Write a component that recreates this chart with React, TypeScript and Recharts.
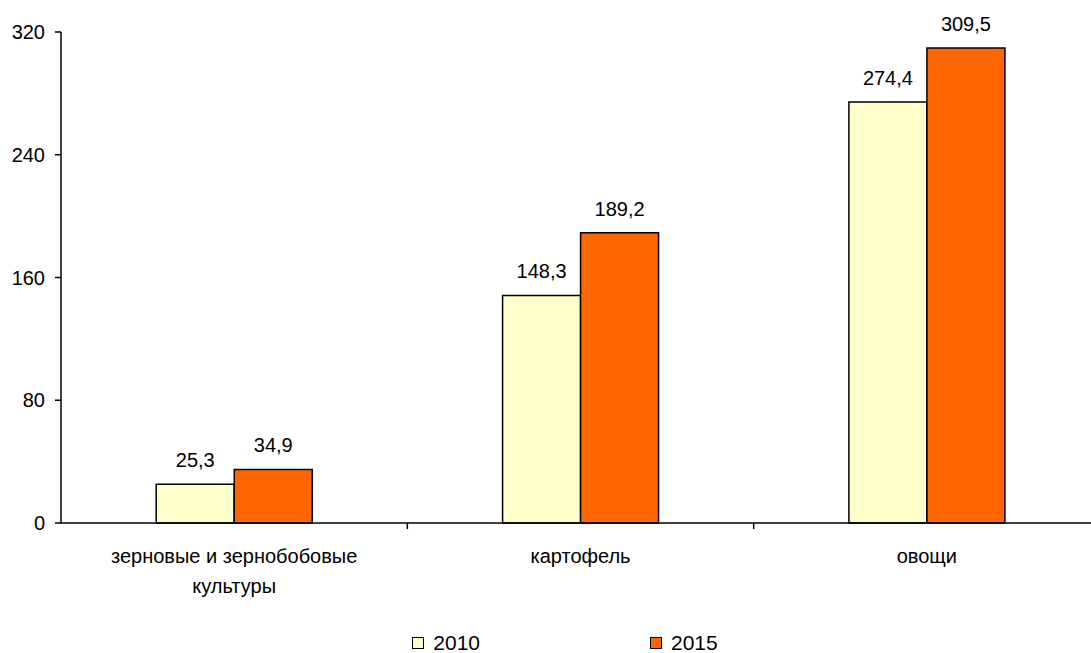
import React from "react";
import { BarChart, Bar, XAxis, YAxis, Legend, LabelList } from "recharts";

// categories (\n = line break in axis label)
const categories = ["зерновые и зернобобовые\nкультуры", "картофель", "овощи"];
const values2010 = [25.3, 148.3, 274.4];
const values2015 = [34.9, 189.2, 309.5];
const yTicks = [0, 80, 160, 240, 320];

const FONT = "'Liberation Sans', Arial, sans-serif";

const chartData = categories.map((c, i) => ({
  name: c,
  y2010: values2010[i],
  y2015: values2015[i],
}));

const fmt = (v: any) => String(v).replace(".", ",");

function CategoryTick(props: any) {
  const { x, y, payload, width } = props;
  const half = payload && payload.offset ? payload.offset : width / (2 * categories.length);
  const lines = String(payload.value).split("\n");
  return (
    <g>
      <line x1={x + half} x2={x + half} y1={y} y2={y + 6} stroke="#000" strokeWidth={1.5} />
      <text x={x} y={y + 40} textAnchor="middle" fontSize={20} fontFamily={FONT} fill="#000">
        {lines.map((l, i) => (
          <tspan key={i} x={x} dy={i === 0 ? 0 : 30}>
            {l}
          </tspan>
        ))}
      </text>
    </g>
  );
}

function LegendContent(props: any) {
  const items = props.payload || [];
  return (
    <div
      style={{
        display: "flex",
        justifyContent: "center",
        gap: 170,
        height: 18,
        paddingLeft: 30,
        fontFamily: FONT,
        fontSize: 21,
        lineHeight: "18px",
        color: "#000",
      }}
    >
      {items.map((it: any) => (
        <div key={it.value} style={{ display: "flex", alignItems: "center" }}>
          <span
            style={{
              display: "inline-block",
              width: 10,
              height: 10,
              background: it.color,
              border: "1.5px solid #000",
              marginRight: 9,
            }}
          />
          <span>{it.value}</span>
        </div>
      ))}
    </div>
  );
}

export default function App() {
  return (
    <div style={{ position: "absolute", left: 0, top: 0, width: 1091, height: 653, overflow: "hidden", background: "#fff" }}>
      <BarChart
        width={1104}
        height={653}
        data={chartData}
        margin={{ top: 32, right: 4, left: 0, bottom: 32 }}
        barCategoryGap="27.5%"
        barGap={0}
      >
        <XAxis
          dataKey="name"
          axisLine={{ stroke: "#000", strokeWidth: 1.5 }}
          tickLine={false}
          tickSize={0}
          tickMargin={0}
          height={80}
          interval={0}
          tick={<CategoryTick />}
        />
        <YAxis
          domain={[0, 320]}
          ticks={yTicks}
          width={61}
          axisLine={{ stroke: "#000", strokeWidth: 1.5 }}
          tickLine={{ stroke: "#000", strokeWidth: 1.5 }}
          tickSize={6}
          tickMargin={10}
          tick={{ fill: "#000", fontSize: 20, fontFamily: FONT }}
        />
        <Legend
          verticalAlign="bottom"
          content={<LegendContent />}
          wrapperStyle={{ top: 634, left: 0, width: 1100 }}
        />
        <Bar dataKey="y2010" name="2010" fill="#FFFFCC" stroke="#000" strokeWidth={1.5} isAnimationActive={false}>
          <LabelList dataKey="y2010" position="top" offset={17} formatter={fmt} fill="#000" fontSize={20} fontFamily={FONT} />
        </Bar>
        <Bar dataKey="y2015" name="2015" fill="#FF6600" stroke="#000" strokeWidth={1.5} isAnimationActive={false}>
          <LabelList dataKey="y2015" position="top" offset={17} formatter={fmt} fill="#000" fontSize={20} fontFamily={FONT} />
        </Bar>
      </BarChart>
    </div>
  );
}
